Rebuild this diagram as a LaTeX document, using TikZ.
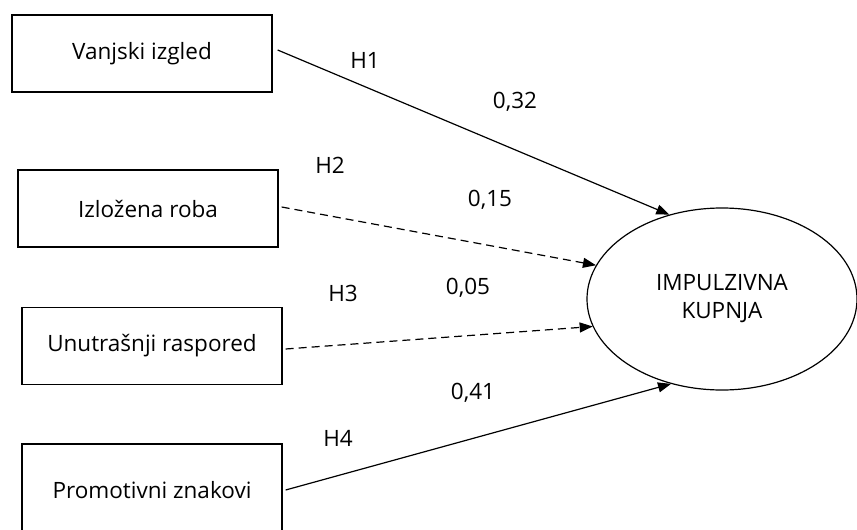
\documentclass[tikz,border=0pt]{standalone}
\usepackage{fontspec}
\setmainfont{Open Sans}
\usetikzlibrary{shapes.geometric,arrows.meta}

\begin{document}
\begin{tikzpicture}[x=1pt,y=-1pt,font=\fontsize{22.5}{28}\selectfont,
  box/.style={draw,line width=1.3pt,minimum width=260pt,minimum height=77pt},
  arr/.style={-{Triangle[length=13pt,width=10pt]},line width=1.2pt},
  dasharr/.style={arr,dash pattern=on 8pt off 5pt}]
\useasboundingbox (0,0) rectangle (857,530);
\clip (0,0) rectangle (857,530);
\node [box] (vanjski) at (142,53.5) {Vanjski izgled};
\node [box] (roba) at (148,208.5) {Izložena roba};
\node [box] (raspored) at (152,346) {Unutrašnji raspored};
\node [box,minimum height=92pt] (znakovi) at (152,490) {Promotivni znakovi};
\node [draw,ellipse,line width=1.2pt,minimum width=270pt,minimum height=182pt,
  inner sep=0pt,align=center] (kupnja) at (722,299) {IMPULZIVNA\\KUPNJA};

\draw [arr] ([xshift=5pt,yshift=3.5pt]vanjski.east) to (kupnja.122);
\draw [dasharr] ([xshift=3pt,yshift=1.5pt]roba.east) to (kupnja.165);
\draw [dasharr] ([xshift=3pt,yshift=-3pt]raspored.east) to (kupnja.192);
\draw [arr] ([xshift=3pt]znakovi.east) to (kupnja.239);

\node (h1) at (365,60) {H1};
\node (b1) at (515,102) {0,32};
\node (h2) at (330,165) {H2};
\node (b2) at (490,200) {0,15};
\node (h3) at (343,293) {H3};
\node (b3) at (468,288) {0,05};
\node (h4) at (338,438) {H4};
\node (b4) at (473,393) {0,41};
\end{tikzpicture}
\end{document}
